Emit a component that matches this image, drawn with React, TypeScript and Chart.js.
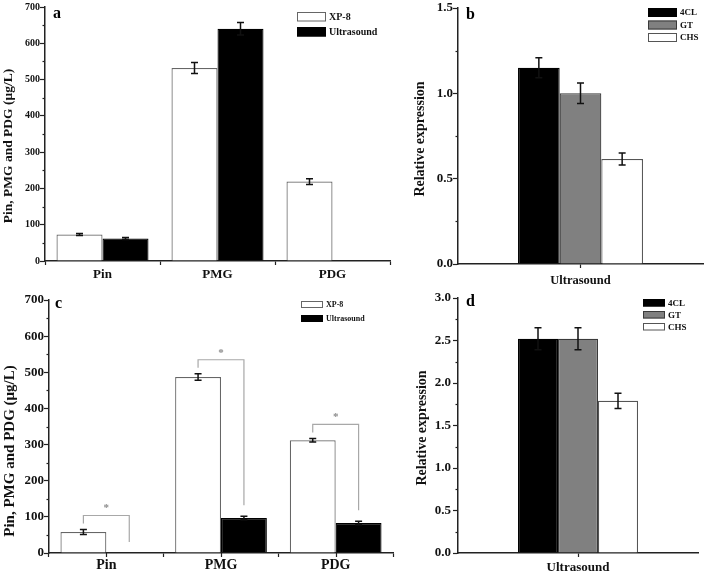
import React, { useEffect, useRef } from 'react';
import { Chart, registerables } from 'chart.js';

Chart.register(...registerables);

// ---------------- data ----------------
const compounds = ['Pin', 'PMG', 'PDG'];
const treatment = ['Ultrasound'];
const genes = ['4CL', 'GT', 'CHS'];

// panel a
const aXp8 = [73, 532, 219];
const aXp8Err = [3, 15, 8];
const aUltrasound = [62, 640, null];
const aUltrasoundErr = [3, 17, null];

// panel b
const bExpression = [1.15, 1.0, 0.615];
const bExpressionErr = [0.058, 0.06, 0.035];

// panel c
const cXp8 = [58, 487, 312];
const cXp8Err = [7, 9, 5];
const cUltrasound = [null, 97, 83];
const cUltrasoundErr = [null, 5, 5];
const cSignificance = ['*', '*', '*'];

// panel d
const dExpression = [2.52, 2.52, 1.79];
const dExpressionErr = [0.13, 0.13, 0.09];

const concTitle = 'Pin, PMG and PDG (\u03bcg/L)';
const exprTitle = 'Relative expression';

// ---------------- styles ----------------
const W = 706;
const H = 574;
const FONT = "'Liberation Serif', 'Times New Roman', serif";
const AXIS = '#222';
const geneFill = ['#000000', '#808080', '#ffffff'];
const geneStroke = ['#000000', '#3a3a3a', '#555555'];

type Area = { l: number; r: number; t: number; b: number };

function isMultiple(v: number, step: number) {
  const r = v / step;
  return Math.abs(r - Math.round(r)) < 1e-6;
}

function errorBarsPlugin() {
  return {
    id: 'errorBars',
    afterDatasetsDraw(chart: any) {
      const ctx = chart.ctx;
      const y = chart.scales.y;
      ctx.save();
      ctx.strokeStyle = '#111';
      ctx.lineWidth = 1.5;
      chart.data.datasets.forEach((ds: any, i: number) => {
        const errs = ds.errors;
        if (!errs) return;
        const meta = chart.getDatasetMeta(i);
        meta.data.forEach((el: any, j: number) => {
          const v = ds.data[j];
          const e = errs[j];
          if (v == null || e == null) return;
          const top = y.getPixelForValue(v + e);
          const bot = y.getPixelForValue(v - e);
          const x = el.x;
          ctx.beginPath();
          ctx.moveTo(x, top);
          ctx.lineTo(x, bot);
          ctx.moveTo(x - 3.5, top);
          ctx.lineTo(x + 3.5, top);
          ctx.moveTo(x - 3.5, bot);
          ctx.lineTo(x + 3.5, bot);
          ctx.stroke();
        });
      });
      ctx.restore();
    },
  };
}

function decoPlugin(cfg: any) {
  return {
    id: 'deco',
    afterDraw(chart: any) {
      const ctx = chart.ctx;
      const ca = chart.chartArea;
      const ys = chart.scales.y;
      const xs = chart.scales.x;
      ctx.save();
      // minor y ticks
      ctx.strokeStyle = AXIS;
      ctx.lineWidth = 1.2;
      ys.ticks.forEach((t: any) => {
        if (isMultiple(t.value, cfg.labelStep)) return;
        const py = Math.round(ys.getPixelForValue(t.value)) + 0.5;
        ctx.beginPath();
        ctx.moveTo(ca.left - 2.5, py);
        ctx.lineTo(ca.left, py);
        ctx.stroke();
      });
      // extra ticks at category centres
      if (cfg.centerTicks) {
        xs.ticks.forEach((_t: any, i: number) => {
          const px = Math.round(xs.getPixelForValue(i)) + 0.5;
          ctx.beginPath();
          ctx.moveTo(px, ca.bottom);
          ctx.lineTo(px, ca.bottom + 4);
          ctx.stroke();
        });
      }
      // panel letter
      ctx.fillStyle = '#000';
      ctx.font = `bold ${cfg.letterSize}px ${FONT}`;
      ctx.textAlign = 'left';
      ctx.textBaseline = 'alphabetic';
      ctx.fillText(cfg.letter, ca.left + cfg.letterDx, ca.top + cfg.letterDy);
      // y title
      ctx.save();
      ctx.translate(cfg.title.x, cfg.title.y);
      ctx.rotate(-Math.PI / 2);
      ctx.font = `bold ${cfg.title.size}px ${FONT}`;
      ctx.textAlign = 'center';
      ctx.textBaseline = 'middle';
      ctx.fillStyle = '#111';
      ctx.fillText(cfg.title.text, 0, 0);
      ctx.restore();
      // legend
      const lg = cfg.legend;
      ctx.font = `bold ${lg.size}px ${FONT}`;
      ctx.textAlign = 'left';
      ctx.textBaseline = 'middle';
      chart.data.datasets.forEach((ds: any, i: number) => {
        const by = lg.y + i * lg.gap;
        ctx.fillStyle = ds.backgroundColor;
        ctx.fillRect(lg.x, by, lg.w, lg.h);
        ctx.strokeStyle = ds.borderColor;
        ctx.lineWidth = 1;
        ctx.strokeRect(lg.x + 0.5, by + 0.5, lg.w - 1, lg.h - 1);
        ctx.fillStyle = '#111';
        ctx.fillText(ds.label, lg.x + lg.w + 3, by + lg.h / 2 + 0.5);
      });
      ctx.restore();
    },
  };
}

function bracketPlugin() {
  return {
    id: 'brackets',
    afterDatasetsDraw(chart: any) {
      const ctx = chart.ctx;
      const y = chart.scales.y;
      const ds0 = chart.data.datasets[0];
      const ds1 = chart.data.datasets[1];
      const m0 = chart.getDatasetMeta(0);
      const m1 = chart.getDatasetMeta(1);
      ctx.save();
      ctx.strokeStyle = '#a8a8a8';
      ctx.lineWidth = 1.2;
      cSignificance.forEach((mark, j) => {
        if (!mark) return;
        const e0 = m0.data[j];
        const e1 = m1.data[j];
        const x0 = e0.x;
        const x1 = isFinite(e1.x) ? e1.x : e0.x + e0.width;
        const v0 = (ds0.data[j] ?? 0) + (ds0.errors[j] ?? 0);
        const v1 = (ds1.data[j] ?? 0) + (ds1.errors[j] ?? 0);
        const p0 = y.getPixelForValue(v0);
        const p1 = y.getPixelForValue(v1);
        const top = p0 - 14;
        ctx.beginPath();
        ctx.moveTo(x0, p0 - 6);
        ctx.lineTo(x0, top);
        ctx.lineTo(x1, top);
        ctx.lineTo(x1, p1 - 11);
        ctx.stroke();
        ctx.fillStyle = '#8a8a8a';
        ctx.font = `bold 11px ${FONT}`;
        ctx.textAlign = 'center';
        ctx.textBaseline = 'middle';
        ctx.fillText(mark, (x0 + x1) / 2, top - 7);
      });
      ctx.restore();
    },
  };
}

function makeOptions(p: any) {
  const a: Area = p.area;
  const labelStep = p.labelStep;
  return {
    responsive: false,
    animation: false,
    devicePixelRatio: 1,
    events: [],
    layout: {
      padding: {
        left: a.l - p.yW,
        top: a.t,
        right: W - a.r,
        bottom: H - a.b - p.xH,
      },
    },
    datasets: { bar: { barPercentage: 1, categoryPercentage: p.catPct } },
    plugins: { legend: { display: false }, tooltip: { enabled: false } },
    scales: {
      x: {
        type: 'category',
        offset: true,
        grid: {
          display: true,
          drawOnChartArea: false,
          drawTicks: true,
          tickLength: 4,
          tickColor: AXIS,
          tickWidth: 1.2,
          offset: p.xGridOffset,
        },
        border: { display: true, color: AXIS, width: 1.5 },
        ticks: {
          color: '#111',
          font: { family: FONT, size: p.xSize, weight: 'bold' },
          padding: p.xPad,
          maxRotation: 0,
          autoSkip: false,
        },
        afterFit: (s: any) => {
          s.height = p.xH;
        },
      },
      y: {
        min: 0,
        max: p.yMax,
        grid: {
          display: true,
          drawOnChartArea: false,
          drawTicks: true,
          tickLength: 5,
          tickColor: (c: any) =>
            c.tick && isMultiple(c.tick.value, labelStep) ? AXIS : 'rgba(0,0,0,0)',
          tickWidth: 1.2,
        },
        border: { display: true, color: AXIS, width: 1.5 },
        ticks: {
          stepSize: p.yStep,
          autoSkip: false,
          padding: p.yPad,
          color: '#111',
          font: { family: FONT, size: p.ySize, weight: 'bold' },
          callback: (v: any) =>
            isMultiple(Number(v), labelStep) ? Number(v).toFixed(p.decimals) : '',
        },
        afterFit: (s: any) => {
          s.width = p.yW;
        },
      },
    },
  };
}

function buildA(canvas: HTMLCanvasElement) {
  return new Chart(canvas, {
    type: 'bar',
    data: {
      labels: compounds,
      datasets: [
        { label: 'XP-8', data: aXp8, errors: aXp8Err, backgroundColor: '#ffffff', borderColor: '#666', borderWidth: 1.2 } as any,
        { label: 'Ultrasound', data: aUltrasound, errors: aUltrasoundErr, backgroundColor: '#000000', borderColor: '#000', borderWidth: 1.2 } as any,
      ],
    },
    options: makeOptions({
      area: { l: 45, r: 390, t: 7, b: 261 },
      yW: 45, xH: 30, catPct: 0.8, xGridOffset: true,
      yMax: 700, yStep: 50, labelStep: 100, decimals: 0,
      ySize: 10, yPad: 0, xSize: 13, xPad: 2,
    }) as any,
    plugins: [
      errorBarsPlugin(),
      decoPlugin({
        labelStep: 100,
        letter: 'a', letterSize: 16, letterDx: 8, letterDy: 11,
        title: { text: concTitle, x: 9, y: 146, size: 13.5 },
        legend: { x: 297, y: 12, w: 29, h: 9.5, gap: 15, size: 10 },
      }),
    ],
  });
}

function buildB(canvas: HTMLCanvasElement) {
  return new Chart(canvas, {
    type: 'bar',
    data: {
      labels: treatment,
      datasets: genes.map((g, i) => ({
        label: g,
        data: [bExpression[i]],
        errors: [bExpressionErr[i]],
        backgroundColor: geneFill[i],
        borderColor: geneStroke[i],
        borderWidth: 1.2,
      })) as any,
    },
    options: makeOptions({
      area: { l: 458, r: 703, t: 8, b: 264 },
      yW: 45, xH: 30, catPct: 0.51, xGridOffset: false,
      yMax: 1.5, yStep: 0.25, labelStep: 0.5, decimals: 1,
      ySize: 13, yPad: 0, xSize: 12.5, xPad: 5,
    }) as any,
    plugins: [
      errorBarsPlugin(),
      decoPlugin({
        labelStep: 0.5,
        letter: 'b', letterSize: 16, letterDx: 8, letterDy: 11,
        title: { text: exprTitle, x: 420, y: 139, size: 14 },
        legend: { x: 648, y: 8, w: 29, h: 9, gap: 12.5, size: 9 },
      }),
    ],
  });
}

function buildC(canvas: HTMLCanvasElement) {
  return new Chart(canvas, {
    type: 'bar',
    data: {
      labels: compounds,
      datasets: [
        { label: 'XP-8', data: cXp8, errors: cXp8Err, backgroundColor: '#ffffff', borderColor: '#666', borderWidth: 1.2 } as any,
        { label: 'Ultrasound', data: cUltrasound, errors: cUltrasoundErr, backgroundColor: '#000000', borderColor: '#000', borderWidth: 1.2 } as any,
      ],
    },
    options: makeOptions({
      area: { l: 49, r: 393, t: 300, b: 553 },
      yW: 45, xH: 20, catPct: 0.8, xGridOffset: true,
      yMax: 700, yStep: 50, labelStep: 100, decimals: 0,
      ySize: 13, yPad: 0, xSize: 14, xPad: 0,
    }) as any,
    plugins: [
      errorBarsPlugin(),
      bracketPlugin(),
      decoPlugin({
        labelStep: 100, centerTicks: true,
        letter: 'c', letterSize: 16, letterDx: 6, letterDy: 8,
        title: { text: concTitle, x: 10.5, y: 451, size: 15 },
        legend: { x: 301, y: 301, w: 22, h: 7, gap: 14, size: 8 },
      }),
    ],
  });
}

function buildD(canvas: HTMLCanvasElement) {
  return new Chart(canvas, {
    type: 'bar',
    data: {
      labels: treatment,
      datasets: genes.map((g, i) => ({
        label: g,
        data: [dExpression[i]],
        errors: [dExpressionErr[i]],
        backgroundColor: geneFill[i],
        borderColor: geneStroke[i],
        borderWidth: 1.2,
      })) as any,
    },
    options: makeOptions({
      area: { l: 458, r: 698, t: 298, b: 553 },
      yW: 45, xH: 20, catPct: 0.5, xGridOffset: false,
      yMax: 3, yStep: 0.25, labelStep: 0.5, decimals: 1,
      ySize: 13, yPad: 2, xSize: 13, xPad: 3,
    }) as any,
    plugins: [
      errorBarsPlugin(),
      decoPlugin({
        labelStep: 0.5,
        letter: 'd', letterSize: 16, letterDx: 8, letterDy: 8,
        title: { text: exprTitle, x: 422, y: 428, size: 14 },
        legend: { x: 643, y: 299, w: 22, h: 7.5, gap: 12, size: 9 },
      }),
    ],
  });
}

function Panel({ build }: { build: (c: HTMLCanvasElement) => Chart }) {
  const ref = useRef<HTMLCanvasElement>(null);
  useEffect(() => {
    const chart = build(ref.current as HTMLCanvasElement);
    return () => chart.destroy();
  }, [build]);
  return (
    <canvas
      ref={ref}
      width={W}
      height={H}
      style={{ position: 'absolute', left: 0, top: 0, width: W, height: H }}
    />
  );
}

export default function App() {
  return (
    <div
      style={{
        position: 'absolute',
        left: 0,
        top: 0,
        width: W,
        height: H,
        background: '#fff',
        overflow: 'hidden',
      }}
    >
      <Panel build={buildA} />
      <Panel build={buildB} />
      <Panel build={buildC} />
      <Panel build={buildD} />
    </div>
  );
}
